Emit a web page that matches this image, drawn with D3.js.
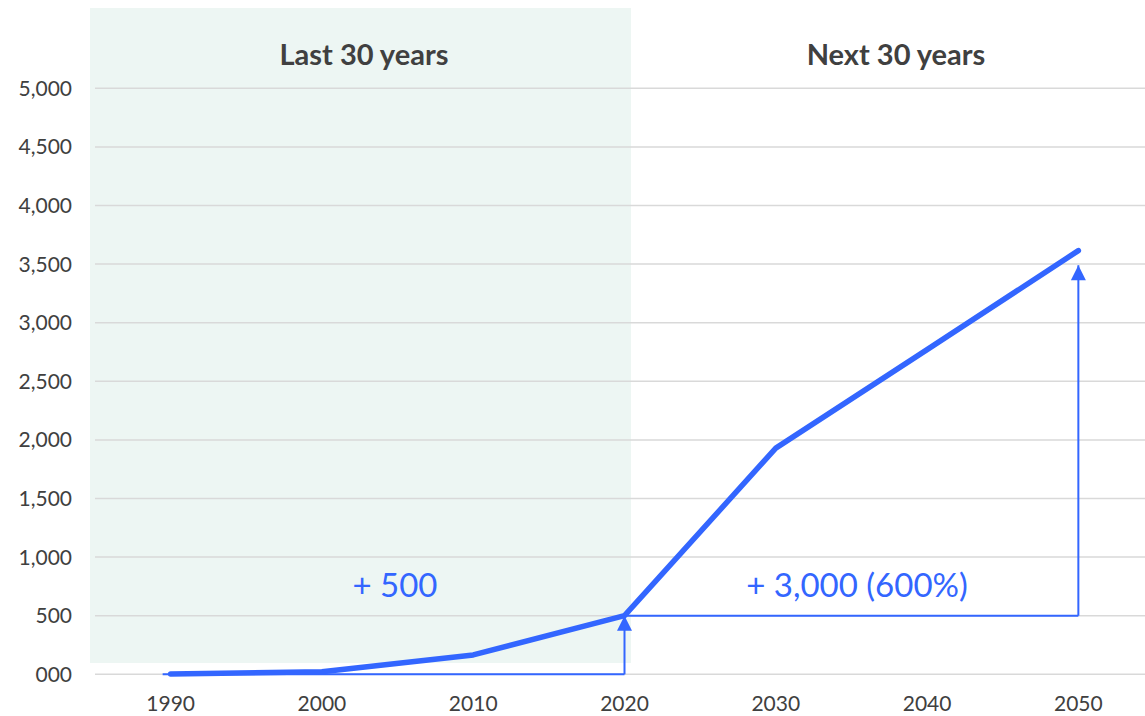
<!DOCTYPE html>
<html>
<head>
<meta charset="utf-8">
<script src="https://cdn.jsdelivr.net/npm/d3@7"></script>
<style>
  body { margin: 0; background: #fff; }
  svg { display: block; font-family: Lato, "Open Sans", sans-serif; }
</style>
</head>
<body>
<svg id="chart" width="1145" height="716"></svg>
<script>
const years = ["1990", "2000", "2010", "2020", "2030", "2040", "2050"];
const values = [3, 22, 165, 500, 1930, 2770, 3615];
const yTicks = [0, 500, 1000, 1500, 2000, 2500, 3000, 3500, 4000, 4500, 5000];
const periodLabels = ["Last 30 years", "Next 30 years"];
const gainLabels = ["+ 500", "+ 3,000 (600%)"];

const blue = "#3366ff";
const grey = "#404040";

const svg = d3.select("#chart");

const x = d3.scalePoint().domain(years).range([95, 1154]).padding(0.5);
const y = d3.scaleLinear().domain([0, 5000]).range([674.3, 88.3]);

// shaded "last 30 years" panel
svg.append("rect")
  .attr("x", 90)
  .attr("y", 8)
  .attr("width", 541)
  .attr("height", 655)
  .attr("fill", "#edf6f3");

// gridlines
svg.append("g")
  .selectAll("line")
  .data(yTicks)
  .join("line")
  .attr("x1", 95)
  .attr("x2", 1154)
  .attr("y1", d => y(d))
  .attr("y2", d => y(d))
  .attr("stroke", "#d9d9d9")
  .attr("stroke-width", 1.5);

// y labels ("000" for zero, like the original)
const fmt = d => d === 0 ? "000" : d3.format(",")(d);
svg.append("g")
  .selectAll("text")
  .data(yTicks)
  .join("text")
  .attr("x", 72)
  .attr("y", d => y(d))
  .attr("dy", "0.36em")
  .attr("text-anchor", "end")
  .attr("font-size", 21)
  .attr("fill", grey)
  .text(fmt);

// x labels
svg.append("g")
  .selectAll("text")
  .data(years)
  .join("text")
  .attr("x", d => x(d))
  .attr("y", 711)
  .attr("text-anchor", "middle")
  .attr("font-size", 21)
  .attr("fill", grey)
  .text(d => d);

// period headings
svg.append("g")
  .selectAll("text")
  .data(periodLabels)
  .join("text")
  .attr("x", (d, i) => [364, 896][i])
  .attr("y", 65)
  .attr("text-anchor", "middle")
  .attr("font-size", 29)
  .attr("font-weight", "bold")
  .attr("fill", grey)
  .text(d => d);

// arrow marker
svg.append("defs")
  .append("marker")
  .attr("id", "arrow")
  .attr("viewBox", "0 -5 10 10")
  .attr("refX", 10)
  .attr("refY", 0)
  .attr("markerUnits", "userSpaceOnUse")
  .attr("markerWidth", 16)
  .attr("markerHeight", 15)
  .attr("orient", "auto")
  .append("path")
  .attr("fill", blue)
  .attr("d", "M0,-5L10,0L0,5Z");

// brackets
const brackets = [
  { from: "1990", to: "2020", base: 0, top: 500 },
  { from: "2020", to: "2050", base: 500, top: 3490 }
];
const bg = svg.append("g").attr("stroke", blue).attr("stroke-width", 2).attr("fill", "none");
brackets.forEach((b, i) => {
  bg.append("line")
    .attr("x1", x(b.from) - (i === 0 ? 8 : 0))
    .attr("x2", x(b.to))
    .attr("y1", y(b.base))
    .attr("y2", y(b.base));
  bg.append("line")
    .attr("x1", x(b.to))
    .attr("x2", x(b.to))
    .attr("y1", y(b.base))
    .attr("y2", y(b.top))
    .attr("marker-end", "url(#arrow)");
});

// main line
svg.append("path")
  .datum(values)
  .attr("fill", "none")
  .attr("stroke", blue)
  .attr("stroke-width", 5.5)
  .attr("stroke-linecap", "round")
  .attr("stroke-linejoin", "round")
  .attr("d", d3.line().x((d, i) => x(years[i])).y(d => y(d)));

// gain labels
svg.append("g")
  .selectAll("text")
  .data(gainLabels)
  .join("text")
  .attr("x", (d, i) => [395, 857][i])
  .attr("y", 597)
  .attr("text-anchor", "middle")
  .attr("font-size", 33)
  .attr("fill", blue)
  .text(d => d);
</script>
</body>
</html>
